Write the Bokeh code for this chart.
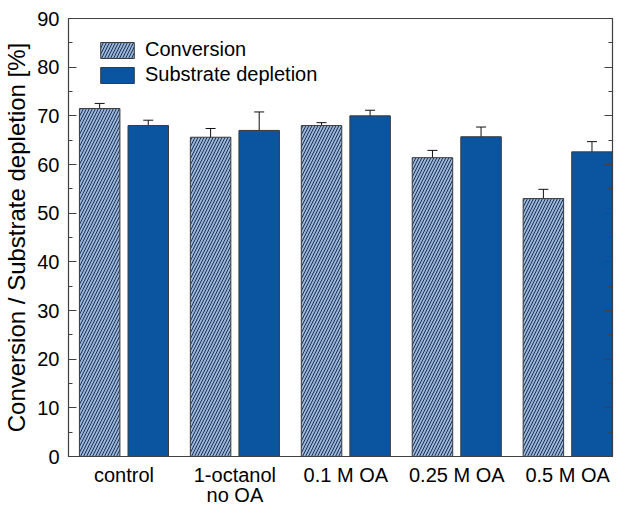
from bokeh.plotting import figure
from bokeh.models import (Range1d, LinearAxis, FixedTicker,
                          Whisker, TeeHead, ColumnDataSource, Legend, LegendItem)
from bokeh.transform import dodge
from bokeh.embed import file_html
from bokeh.resources import INLINE

# ---- data ----
categories = ["control", "1-octanol\nno OA", "0.1 M OA", "0.25 M OA", "0.5 M OA"]
conversion = [71.5, 65.6, 68.0, 61.4, 53.0]
conversion_err = [1.05, 1.8, 0.6, 1.5, 1.9]
depletion = [68.0, 67.0, 70.0, 65.7, 62.6]
depletion_err = [1.1, 3.8, 1.15, 2.0, 2.1]
y_ticks = [0, 10, 20, 30, 40, 50, 60, 70, 80, 90]
y_minor_ticks = [5, 15, 25, 35, 45, 55, 65, 75, 85]
series_names = ["Conversion", "Substrate depletion"]

FONT = "Liberation Sans"
AXC = "#404040"
xpos = list(range(1, len(categories) + 1))

src = ColumnDataSource(dict(
    x=xpos,
    conv=conversion,
    conv_lo=[v - e for v, e in zip(conversion, conversion_err)],
    conv_hi=[v + e for v, e in zip(conversion, conversion_err)],
    dep=depletion,
    dep_lo=[v - e for v, e in zip(depletion, depletion_err)],
    dep_hi=[v + e for v, e in zip(depletion, depletion_err)],
))

p = figure(width=614, height=509, output_backend="svg", toolbar_location=None,
           x_range=Range1d(0.5, 5.404), y_range=Range1d(0, 90),
           min_border_left=64, min_border_right=2, min_border_top=18,
           min_border_bottom=50, x_axis_type=None, y_axis_type=None)
p.xgrid.visible = False
p.ygrid.visible = False
p.outline_line_color = AXC
p.outline_line_width = 1.2
p.background_fill_color = "white"
p.border_fill_color = "white"

OFF = 0.219
BW = 0.365
r1 = p.vbar(x=dodge("x", -OFF), top="conv", width=BW, bottom=0, source=src,
            fill_color="#97b5dc", line_color="#3a3a3a", line_width=1,
            hatch_pattern="/", hatch_color="#22314a", hatch_scale=6, hatch_weight=1.0)
r2 = p.vbar(x=dodge("x", OFF), top="dep", width=BW, bottom=0, source=src,
            fill_color="#0b54a0", line_color="#3a3a3a", line_width=1)

for base, lo, hi in ((dodge("x", -OFF), "conv_lo", "conv_hi"), (dodge("x", OFF), "dep_lo", "dep_hi")):
    w = Whisker(base=base, lower=lo, upper=hi, source=src, line_color="#111111", line_width=1,
                upper_head=TeeHead(size=10, line_color="#111111", line_width=1),
                lower_head=TeeHead(size=10, line_color="#111111", line_width=1))
    p.add_layout(w)

# left axis
yl = LinearAxis(ticker=FixedTicker(ticks=y_ticks, minor_ticks=y_minor_ticks))
yl.axis_label = "Conversion / Substrate depletion [%]"
yl.axis_label_text_font = FONT
yl.axis_label_text_font_size = "24px"
yl.axis_label_text_font_style = "normal"
yl.axis_label_text_color = "black"
yl.axis_label_standoff = 4
yl.major_label_text_font = FONT
yl.major_label_text_font_size = "20px"
yl.major_label_text_color = "black"
yl.major_label_standoff = 9
yl.major_tick_in = 8
yl.major_tick_out = 0
yl.minor_tick_in = 4
yl.minor_tick_out = 0
yl.axis_line_color = AXC
yl.major_tick_line_color = AXC
yl.minor_tick_line_color = AXC
p.add_layout(yl, "left")

# right axis (ticks only, no labels drawn)
yr = LinearAxis(ticker=FixedTicker(ticks=y_ticks, minor_ticks=y_minor_ticks))
yr.major_label_text_font_size = "0px"
yr.major_label_text_color = None
yr.major_label_standoff = 0
yr.major_tick_in = 8
yr.major_tick_out = 0
yr.minor_tick_in = 4
yr.minor_tick_out = 0
yr.axis_line_color = AXC
yr.major_tick_line_color = AXC
yr.minor_tick_line_color = AXC
p.add_layout(yr, "right")

# bottom axis
xb = LinearAxis(ticker=FixedTicker(ticks=xpos),
                major_label_overrides={i: c for i, c in zip(xpos, categories)})
xb.major_label_text_font = FONT
xb.major_label_text_font_size = "20px"
xb.major_label_text_color = "black"
xb.major_label_text_line_height = 0.95
xb.major_label_standoff = 7
xb.major_tick_in = 0
xb.major_tick_out = 0
xb.minor_tick_line_color = None
xb.axis_line_color = AXC
p.add_layout(xb, "below")

legend = Legend(items=[LegendItem(label=series_names[0], renderers=[r1]),
                       LegendItem(label=series_names[1], renderers=[r2])],
                location=(28, 370), padding=0, margin=0, spacing=2,
                glyph_width=42, glyph_height=20, label_height=20, label_standoff=7,
                label_text_font=FONT, label_text_font_size="20px", label_text_color="black",
                background_fill_alpha=0, border_line_color=None)
p.add_layout(legend, "center")

open("out.html", "w").write(file_html(p, INLINE))
